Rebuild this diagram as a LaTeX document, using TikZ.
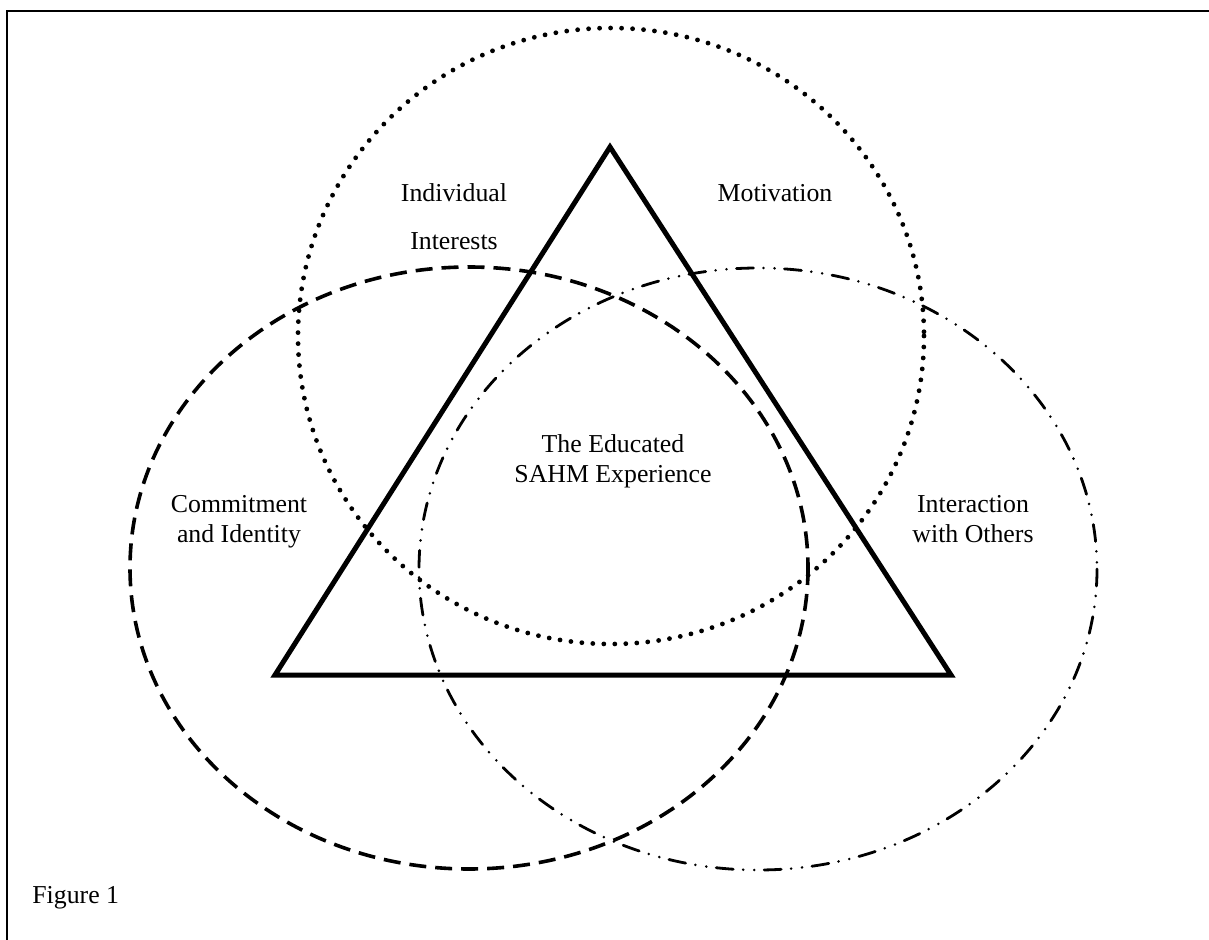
\documentclass[tikz,border=0pt]{standalone}
\usepackage{fontspec}
\setmainfont{Liberation Serif}
\begin{document}
\begin{tikzpicture}[x=0.5pt,y=-0.5pt,
  lbl/.style={font=\fontsize{12.9}{15}\selectfont, align=center, inner sep=0pt, anchor=base},
  framebox/.style={line width=1pt},
  triline/.style={line width=2.5pt, line join=miter},
  dotring/.style={line width=2.4pt, line cap=round, dash pattern=on 0pt off 5.5pt},
  dashring/.style={line width=1.8pt, dash pattern=on 8.5pt off 4.5pt},
  dashdotring/.style={line width=1.4pt, line cap=round,
    dash pattern=on 8.5pt off 5pt on 0pt off 5.5pt on 0pt off 5pt}]
  % page area and outer frame (right and bottom edges run off the page)
  \path[use as bounding box] (0,0) rectangle (1209,940);
  \clip (0,0) rectangle (1209,940);
  \fill[white] (0,0) rectangle (1209,940);
  \draw[framebox] (7,11) rectangle (1240,970);

  % the three overlapping domains
  \draw[dotring] (611,336) ellipse [x radius=313, y radius=308];
  \draw[dashring] (469,568) ellipse [x radius=339, y radius=301];
  \draw[dashdotring] (758,569) ellipse [x radius=339, y radius=301];

  % central triangle
  \draw[triline] (610,147) -- (951,675) -- (275,675) -- cycle;

  % labels (a multi-line node sits on the baseline of its last line)
  \node[lbl] (indiv) at (454,250) {Individual\\[9pt]Interests};
  \node[lbl] (motiv) at (775,202) {Motivation};
  \node[lbl] (core) at (613,483) {The Educated\\SAHM Experience};
  \node[lbl] (commit) at (239,542) {Commitment\\and Identity};
  \node[lbl] (interact) at (973,542) {Interaction\\with Others};
  \node[lbl, anchor=base west] (fig) at (32,903) {Figure 1};
\end{tikzpicture}
\end{document}
